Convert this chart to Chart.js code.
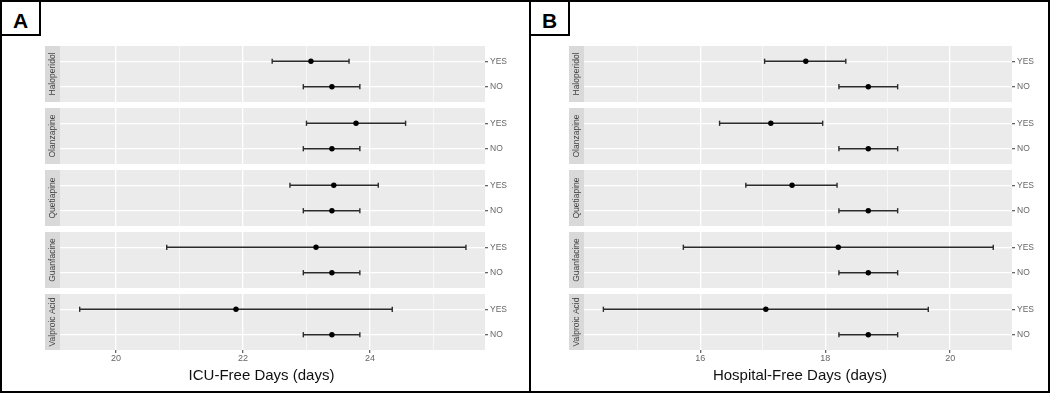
<!DOCTYPE html>
<html>
<head>
<meta charset="utf-8">
<script src="https://cdn.jsdelivr.net/npm/chart.js@4.4.1/dist/chart.umd.min.js"></script>
<style>
  html, body { margin: 0; padding: 0; background: #fff; }
  body { width: 1050px; height: 393px; position: relative; overflow: hidden; font-family: "Liberation Sans", Arial, sans-serif; }
  canvas { position: absolute; top: 0; }
  .frame { position: absolute; top: 0; height: 393px; box-sizing: border-box; border: 2px solid #000; }
  .tag { position: absolute; top: 0; height: 36px; width: 41px; box-sizing: border-box; border: 2px solid #000;
         font-weight: bold; font-size: 21px; text-align: center; line-height: 34px; padding-top: 2px; background: #fff; }
</style>
</head>
<body>
<canvas id="icuChart" width="530" height="393" style="left:0"></canvas>
<canvas id="hospChart" width="520" height="393" style="left:530px"></canvas>
<div class="frame" style="left:0;width:531px"></div>
<div class="frame" style="left:529px;width:521px"></div>
<div class="tag" style="left:0">A</div>
<div class="tag" style="left:529px">B</div>

<script>
// facets (top to bottom) and rows inside each facet
const drugs = ['Haloperidol', 'Olanzapine', 'Quetiapine', 'Guanfacine', 'Valproic Acid'];
const groups = ['YES', 'NO'];

// A: ICU-free days, estimate with lower / upper limits
const icuYesEst  = [23.07, 23.78, 23.43, 23.15, 21.89];
const icuYesLow  = [22.46, 23.00, 22.74, 20.80, 19.43];
const icuYesHigh = [23.67, 24.56, 24.13, 25.51, 24.35];
const icuNoEst   = [23.40, 23.40, 23.40, 23.40, 23.40];
const icuNoLow   = [22.95, 22.95, 22.95, 22.95, 22.95];
const icuNoHigh  = [23.84, 23.84, 23.84, 23.84, 23.84];
const icuTicks   = [20, 22, 24];

// B: hospital-free days
const hospYesEst  = [17.69, 17.13, 17.47, 18.21, 17.05];
const hospYesLow  = [17.03, 16.31, 16.73, 15.73, 14.45];
const hospYesHigh = [18.33, 17.96, 18.19, 20.69, 19.65];
const hospNoEst   = [18.69, 18.69, 18.69, 18.69, 18.69];
const hospNoLow   = [18.22, 18.22, 18.22, 18.22, 18.22];
const hospNoHigh  = [19.16, 19.16, 19.16, 19.16, 19.16];
const hospTicks   = [16, 18, 20];

// facet layout on the y scale (ggplot style discrete expansion)
const ROW_PAD = 0.6;
const FACET_SPAN = 1 + 2 * ROW_PAD;
const FACET_GAP = 0.236;
const FACET_STEP = FACET_SPAN + FACET_GAP;
const STRIP_W = 15;
const FONT = '"Liberation Sans", Arial, sans-serif';

function rowY(f, g) {
    return f * FACET_STEP + ROW_PAD + g;
}

const rowTicks = [];
drugs.forEach((d, f) => groups.forEach((g, gi) => rowTicks.push(rowY(f, gi))));

// grey panels + strips on the left, axis title underneath
const facetPlugin = {
    id: 'facets',
    beforeDraw(chart) {
        const { ctx, chartArea, scales } = chart;
        const y = scales.y;
        ctx.save();
        drugs.forEach((name, f) => {
            const top = y.getPixelForValue(f * FACET_STEP);
            const bottom = y.getPixelForValue(f * FACET_STEP + FACET_SPAN);
            ctx.fillStyle = '#EBEBEB';
            ctx.fillRect(chartArea.left, top, chartArea.right - chartArea.left, bottom - top);

            const sx = chartArea.left - STRIP_W;
            ctx.fillStyle = '#D9D9D9';
            ctx.fillRect(sx, top, STRIP_W, bottom - top);
            ctx.save();
            ctx.beginPath();
            ctx.rect(sx, top, STRIP_W, bottom - top);
            ctx.clip();
            ctx.translate(sx + STRIP_W / 2, (top + bottom) / 2);
            ctx.rotate(-Math.PI / 2);
            ctx.fillStyle = '#444';
            ctx.font = '8.5px ' + FONT;
            ctx.textAlign = 'center';
            ctx.textBaseline = 'middle';
            ctx.fillText(name, 0, 0);
            ctx.restore();
        });
        ctx.restore();
    },
    afterDraw(chart, args, opts) {
        const { ctx, chartArea } = chart;
        ctx.save();
        ctx.fillStyle = '#111';
        ctx.font = '15px ' + FONT;
        ctx.textAlign = 'center';
        ctx.textBaseline = 'middle';
        ctx.fillText(opts.text, (chartArea.left + chartArea.right) / 2 + opts.shift, opts.y);
        ctx.restore();
    }
};

function buildDatasets(est, low, high) {
    const sets = [];
    drugs.forEach((d, f) => {
        groups.forEach((g, gi) => {
            const yv = rowY(f, gi);
            sets.push({
                data: [{ x: low[gi][f], y: yv }, { x: high[gi][f], y: yv }],
                borderColor: '#2b2b2b',
                borderWidth: 1.5,
                pointStyle: 'line',
                rotation: 90,
                pointRadius: 2.6,
                pointBorderWidth: 1.4,
                pointBorderColor: '#2b2b2b',
                fill: false,
                order: 2
            });
        });
    });
    const pts = [];
    drugs.forEach((d, f) => groups.forEach((g, gi) => pts.push({ x: est[gi][f], y: rowY(f, gi) })));
    sets.push({
        data: pts,
        showLine: false,
        pointRadius: 2.7,
        pointBackgroundColor: '#000',
        pointBorderWidth: 0,
        order: 1
    });
    return sets;
}

function makeChart(id, datasets, xmin, xmax, majors, title, shift, pad) {
    const isMajor = c => c.tick && majors.includes(c.tick.value);
    return new Chart(document.getElementById(id), {
        type: 'line',
        data: { datasets },
        plugins: [facetPlugin],
        options: {
            responsive: false,
            animation: false,
            events: [],
            layout: { padding: pad },
            plugins: {
                legend: { display: false },
                tooltip: { enabled: false },
                facets: { text: title, shift: shift, y: 376 }
            },
            scales: {
                x: {
                    type: 'linear',
                    min: xmin,
                    max: xmax,
                    afterBuildTicks: s => {
                        const t = [];
                        for (let v = Math.ceil(s.min); v <= Math.floor(s.max); v++) t.push({ value: v });
                        s.ticks = t;
                    },
                    ticks: {
                        callback: v => majors.includes(v) ? String(v) : '',
                        autoSkip: false, maxRotation: 0, color: '#666', padding: 0,
                        font: { size: 9, family: FONT }
                    },
                    grid: {
                        color: '#fff',
                        lineWidth: c => isMajor(c) ? 1.3 : 0.6,
                        tickColor: c => isMajor(c) ? '#666' : 'rgba(0,0,0,0)',
                        tickLength: 3
                    },
                    border: { display: false },
                    afterFit: s => { s.height = 43; }
                },
                y: {
                    type: 'linear',
                    position: 'right',
                    reverse: true,
                    min: 0,
                    max: (drugs.length - 1) * FACET_STEP + FACET_SPAN,
                    afterBuildTicks: s => { s.ticks = rowTicks.map(v => ({ value: v })); },
                    ticks: {
                        callback: (v, i) => groups[i % 2],
                        autoSkip: false, color: '#666', padding: 2,
                        font: { size: 8.5, family: FONT }
                    },
                    grid: { color: '#fff', lineWidth: 1.3, tickColor: '#666', tickLength: 3 },
                    border: { display: false },
                    afterFit: s => { s.width = 35; }
                }
            }
        }
    });
}

makeChart('icuChart',
    buildDatasets([icuYesEst, icuNoEst], [icuYesLow, icuNoLow], [icuYesHigh, icuNoHigh]),
    19.12, 25.81, icuTicks, 'ICU-Free Days (days)', -11,
    { left: 60, right: 10, top: 46, bottom: 0 });

makeChart('hospChart',
    buildDatasets([hospYesEst, hospNoEst], [hospYesLow, hospNoLow], [hospYesHigh, hospNoHigh]),
    14.14, 20.99, hospTicks, 'Hospital-Free Days (days)', 2,
    { left: 54, right: 3, top: 46, bottom: 0 });
</script>
</body>
</html>
